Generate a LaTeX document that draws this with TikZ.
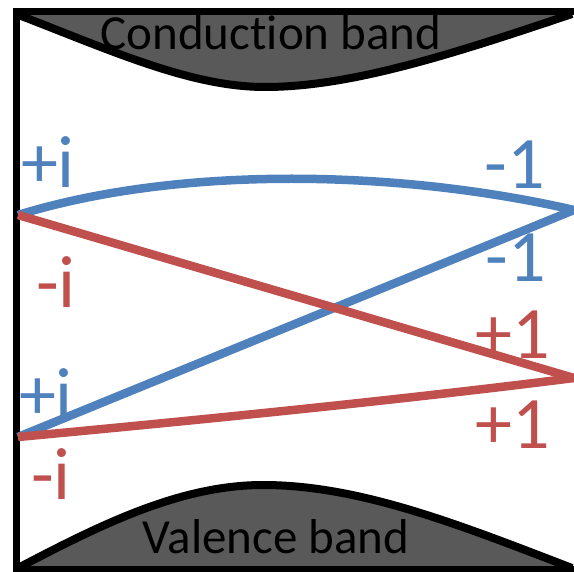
\documentclass[tikz,border=0pt]{standalone}
\usepackage{fontspec}
\setmainfont{Carlito}[Ligatures=NoCommon]
\definecolor{bandblue}{HTML}{4F81BD}
\definecolor{bandred}{HTML}{C0504D}
\definecolor{bandgray}{HTML}{595959}
\tikzset{
	bandedge/.style={line width=8pt, black},
	statelbl/.style={inner sep=0pt, font=\fontsize{74}{76}\selectfont},
	bandlbl/.style={inner sep=0pt, font=\fontsize{49}{52}\selectfont}
}
\begin{document}
\begin{tikzpicture}[x=1pt, y=-1pt]
	\useasboundingbox (0,0) rectangle (574,572);

	% Conduction band
	\fill[bandgray] (16,12) -- (16,14) .. controls (110,50) and (190,87) .. (265,87)
		.. controls (350,87) and (450,55) .. (574,12) -- cycle;
	\draw[bandedge] (16,14) .. controls (110,50) and (190,87) .. (265,87)
		.. controls (350,87) and (450,55) .. (572,14);
	\node[bandlbl] (cb) at (271,33) {Conduction band};

	% Valence band
	\fill[bandgray] (16,570) -- (18,568) .. controls (100,525) and (180,485) .. (263,485)
		.. controls (360,485) and (460,525) .. (574,570) -- cycle;
	\draw[bandedge] (18,568) .. controls (100,525) and (180,485) .. (263,485)
		.. controls (360,485) and (460,525) .. (572,568);
	\node[bandlbl] (vb) at (276,537) {Valence band};

	% Frame
	\draw[line width=7pt, black] (16.5,11.5) rectangle (577,569.5);

	% Edge state end points
	\coordinate (L1) at (18,215);
	\coordinate (L2) at (18,437);
	\coordinate (R1) at (574,210);
	\coordinate (R2) at (574,378);

	% Edge states
	\draw[bandblue, line width=8.5pt] (L1) .. controls (180,165) and (400,170) .. (R1);
	\draw[bandblue, line width=8.5pt] (L2) -- (R1);
	\draw[bandred, line width=8.5pt] (L1) -- (R2);
	\draw[bandred, line width=8.5pt] (L2) .. controls (200,420) and (400,400) .. (R2);

	% Eigenvalue labels
	\node[statelbl, bandblue] (pi1) at (48,162) {+i};
	\node[statelbl, bandred] (mi1) at (56,282) {-i};
	\node[statelbl, bandblue] (pi2) at (46,394) {+i};
	\node[statelbl, bandred] (mi2) at (51,474) {-i};
	\node[statelbl, bandblue] (mo1) at (515,165) {-1};
	\node[statelbl, bandblue] (mo2) at (516,258) {-1};
	\node[statelbl, bandred] (po1) at (513,335) {+1};
	\node[statelbl, bandred] (po2) at (513,425) {+1};

\end{tikzpicture}
\end{document}
